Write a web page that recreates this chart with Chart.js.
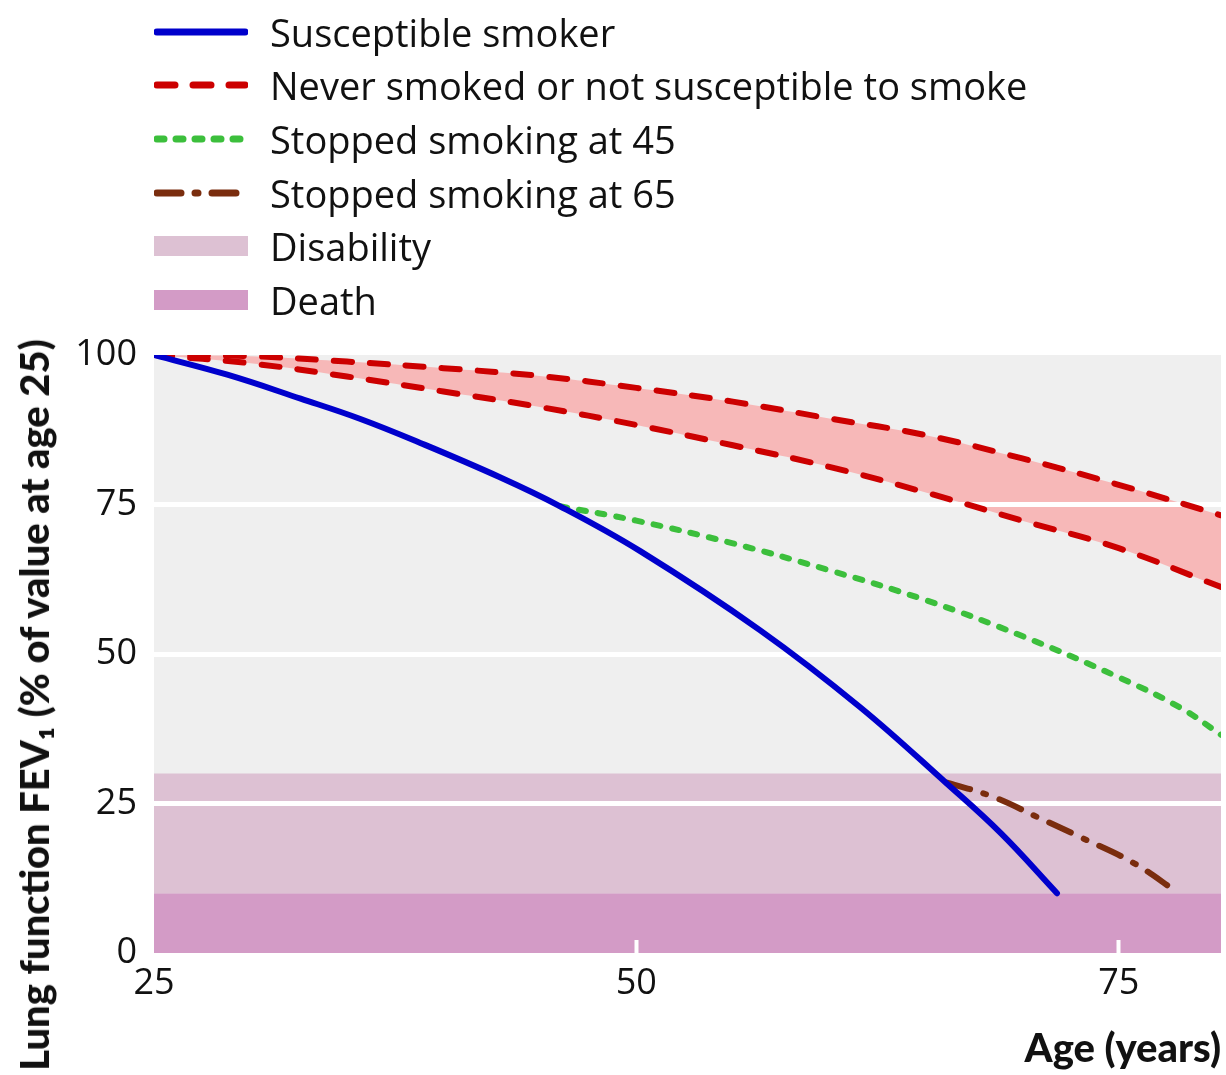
<!DOCTYPE html>
<html>
<head>
<meta charset="utf-8">
<script src="https://cdn.jsdelivr.net/npm/chart.js@4.4.0/dist/chart.umd.min.js"></script>
<style>
  body { margin: 0; background: #fff; }
  #wrap { position: relative; width: 1226px; height: 1075px; }
  #legend { position: absolute; left: 0; top: 5px; font-family: 'Open Sans', sans-serif; font-size: 38px; color: #111; }
  .row { display: flex; align-items: center; height: 53.6px; }
  .row svg { margin-left: 154px; flex: none; }
  .row span { margin-left: 22px; white-space: nowrap; }
  #ytitle { position: absolute; left: 34px; top: 705px; transform: translate(-50%, -50%) rotate(-90deg);
            font-family: Lato, 'Liberation Sans', sans-serif; font-weight: 900; font-size: 40px;
            white-space: nowrap; line-height: 1; color: #111; }
</style>
</head>
<body>
<div id="wrap">
  <canvas id="fev-chart"></canvas>
  <div id="legend"></div>
  <div id="ytitle">Lung function FEV₁ (% of value at age 25)</div>
</div>
<script>
(function() {
    'use strict';

    // Eixos
    const xMin = 25;
    const xMax = 80.3;
    const xTickValues = [25, 50, 75];
    const yTickValues = [0, 25, 50, 75, 100];
    const gridValues = [25, 50, 75];

    // Curvas (idade, % do FEV1 aos 25 anos)
    const susceptibleAge = [25, 28.8, 32.6, 35.7, 38.8, 42.9, 46.05, 50.2, 56.4, 61.6, 66.1, 68.9, 71.8];
    const susceptibleFev = [100, 96.7, 92.7, 89.3, 85.3, 79.6, 74.7, 67.2, 54.0, 41.1, 28.3, 20.0, 10.0];

    const neverAge = [25, 30, 35, 40, 45, 50, 55, 60, 65, 70, 75, 80.3];
    const neverUpperFev = [100, 99.8, 98.9, 97.8, 96.5, 94.5, 92.2, 89.4, 86.6, 82.7, 78.3, 73.2];
    const neverLowerFev = [100, 98.6, 96.4, 93.9, 91.3, 88.3, 84.9, 81.3, 77.0, 72.3, 67.7, 61.2];

    const stop45Age = [46.05, 50, 55, 60, 65, 70, 75, 78.2, 80.3];
    const stop45Fev = [74.7, 72.3, 68.5, 64.0, 59.0, 53.0, 46.1, 41.0, 36.5];

    const stop65Age = [66.1, 68.5, 70.8, 73.0, 75.8, 78.1];
    const stop65Fev = [28.5, 26.1, 22.7, 19.4, 15.0, 10.0];

    // Faixas
    const disabilityRange = [10, 30];
    const deathRange = [0, 10];
    const plotTop = 100;

    function toPoints(xs, ys) {
        return xs.map(function(x, i) { return { x: x, y: ys[i] }; });
    }

    function flatLine(y) {
        return [{ x: xMin, y: y }, { x: xMax, y: y }];
    }

    const tickFont = { family: "'Open Sans', sans-serif", size: 36 };

    const chart = new Chart(document.getElementById('fev-chart'), {
        type: 'line',
        data: {
            datasets: [
                {
                    label: 'Susceptible smoker',
                    data: toPoints(susceptibleAge, susceptibleFev),
                    borderColor: '#0000cc',
                    borderWidth: 6,
                    borderCapStyle: 'round',
                    fill: false
                },
                {
                    label: 'Never smoked or not susceptible to smoke',
                    data: toPoints(neverAge, neverUpperFev),
                    borderColor: '#cc0000',
                    borderWidth: 6,
                    borderDash: [18, 18],
                    borderCapStyle: 'round',
                    backgroundColor: '#f7b8b8',
                    fill: '+1'
                },
                {
                    label: 'Never smoked or not susceptible to smoke',
                    data: toPoints(neverAge, neverLowerFev),
                    borderColor: '#cc0000',
                    borderWidth: 6,
                    borderDash: [18, 18],
                    borderCapStyle: 'round',
                    fill: false
                },
                {
                    label: 'Stopped smoking at 45',
                    data: toPoints(stop45Age, stop45Fev),
                    borderColor: '#3cbf3c',
                    borderWidth: 6,
                    borderDash: [7, 12],
                    borderCapStyle: 'round',
                    fill: false
                },
                {
                    label: 'Stopped smoking at 65',
                    data: toPoints(stop65Age, stop65Fev),
                    borderColor: '#7a2d0e',
                    borderWidth: 6,
                    borderDash: [24, 14, 3, 14],
                    borderCapStyle: 'round',
                    fill: false
                },
                {
                    label: 'Disability',
                    data: flatLine(disabilityRange[1]),
                    borderColor: 'transparent',
                    borderWidth: 0,
                    backgroundColor: '#ddc1d3',
                    fill: { value: disabilityRange[0] }
                },
                {
                    label: 'Death',
                    data: flatLine(deathRange[1]),
                    borderColor: 'transparent',
                    borderWidth: 0,
                    backgroundColor: '#d39bc6',
                    fill: { value: deathRange[0] }
                },
                {
                    // fundo cinza da área do gráfico
                    label: '',
                    data: flatLine(plotTop),
                    borderColor: 'transparent',
                    borderWidth: 0,
                    backgroundColor: '#efefef',
                    fill: 'start'
                }
            ]
        },
        options: {
            responsive: true,
            maintainAspectRatio: false,
            animation: false,
            elements: {
                point: { radius: 0, hoverRadius: 0 },
                line: { tension: 0.4 }
            },
            layout: { padding: { top: 355, right: 5, bottom: 0, left: 0 } },
            plugins: {
                legend: { display: false },
                tooltip: { enabled: false },
                filler: { drawTime: 'beforeDraw' }
            },
            scales: {
                x: {
                    type: 'linear',
                    min: xMin,
                    max: xMax,
                    afterBuildTicks: function(scale) {
                        scale.ticks = xTickValues.map(function(v) { return { value: v }; });
                    },
                    afterFit: function(scale) { scale.height = 122; },
                    border: { display: false },
                    grid: {
                        drawOnChartArea: false,
                        drawTicks: true,
                        tickLength: -13,
                        tickWidth: 4,
                        tickColor: function(ctx) {
                            return (ctx.tick && ctx.tick.value > xMin) ? '#ffffff' : 'transparent';
                        }
                    },
                    ticks: { font: tickFont, color: '#111', padding: 22, maxRotation: 0 },
                    title: {
                        display: true,
                        text: 'Age (years)',
                        align: 'end',
                        color: '#111',
                        padding: { top: 0, bottom: 2 },
                        font: { family: "Lato, 'Liberation Sans', sans-serif", size: 40, weight: 900 }
                    }
                },
                y: {
                    min: 0,
                    max: 100,
                    afterBuildTicks: function(scale) {
                        scale.ticks = yTickValues.map(function(v) { return { value: v }; });
                    },
                    afterFit: function(scale) { scale.width = 154; },
                    border: { display: false },
                    grid: {
                        drawTicks: false,
                        lineWidth: 5,
                        color: function(ctx) {
                            return (ctx.tick && gridValues.indexOf(ctx.tick.value) >= 0) ? '#ffffff' : 'transparent';
                        }
                    },
                    ticks: { font: tickFont, color: '#111', padding: 17 }
                }
            }
        }
    });

    // Legenda em HTML (uma linha por série)
    const legendEl = document.getElementById('legend');
    const seen = {};
    chart.data.datasets.forEach(function(ds) {
        if (!ds.label || seen[ds.label]) {
            return;
        }
        seen[ds.label] = true;
        let sample;
        if (ds.borderWidth > 0) {
            const dash = (ds.borderDash || []).join(' ');
            sample = '<svg width="94" height="20"><line x1="3" y1="10" x2="91" y2="10" stroke="' + ds.borderColor +
                '" stroke-width="7" stroke-linecap="round" stroke-dasharray="' + dash + '"/></svg>';
        } else {
            sample = '<svg width="94" height="20"><rect width="94" height="20" fill="' + ds.backgroundColor + '"/></svg>';
        }
        const row = document.createElement('div');
        row.className = 'row';
        row.innerHTML = sample + '<span>' + ds.label + '</span>';
        legendEl.appendChild(row);
    });
})();
</script>
</body>
</html>
